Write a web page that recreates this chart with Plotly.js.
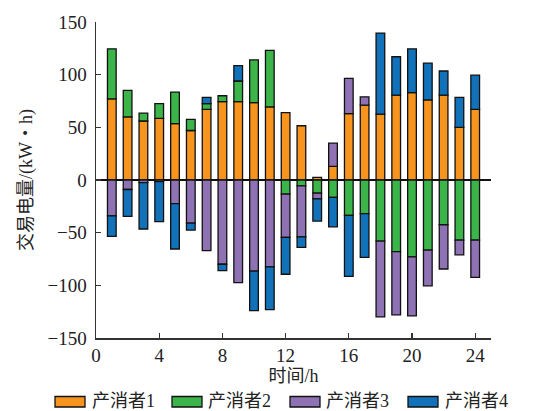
<!DOCTYPE html>
<html>
<head>
<meta charset="utf-8">
<script src="https://cdn.plot.ly/plotly-3.0.1.min.js"></script>
<style>
  html, body { margin: 0; padding: 0; background: #fff; }
  #chart { width: 534px; height: 411px; }
</style>
</head>
<body>
<div id="chart"></div>
<script>
// Hourly traded energy of four prosumers (kW·h); positive = sold, negative = bought
const hours = [1,2,3,4,5,6,7,8,9,10,11,12,13,14,15,16,17,18,19,20,21,22,23,24];
const prosumer1 = [77, 60, 56, 58.5, 53.5, 47, 67, 74.5, 74.5, 73.5, 69.5, 64, 51.5, 2.5, 13, 63, 71, 62.5, 80.5, 83, 76, 80.5, 50, 67];
const prosumer2 = [47.5, 25, 7.5, 14, 30, 10.5, 5.5, 5.5, 19.5, 40.5, 53.5, -13.5, -5.5, -12.5, -16.5, -33.5, -32, -58, -68, -73, -66.5, -42.5, -57, -57];
const prosumer3 = [-34, -9, -2.5, -1.5, -22.5, -41, -67, -80, -97.5, -86.5, -82.5, -41, -48.5, -5.5, 22, 33.5, 8, -72, -60, -56, -34, -42, -14, -35.5];
const prosumer4 = [-19.5, -25.5, -44, -38, -43, -6.5, 6, -6, 14.5, -37.5, -40.5, -35, -10, -21, -28, -58, -41.5, 77, 36.5, 41.5, 35, 23, 28.5, 32.5];

const seriesNames = ['产消者1', '产消者2', '产消者3', '产消者4'];
const seriesColors = ['#F7941D', '#3BB54A', '#8F72B4', '#1172BA'];
const seriesValues = [prosumer1, prosumer2, prosumer3, prosumer4];

const W = 534, H = 411;
const M = { l: 96, r: 43, t: 22, b: 73 };
const plotW = W - M.l - M.r, plotH = H - M.t - M.b;
const px2x = px => (px - M.l) / plotW;
const px2y = py => (H - M.b - py) / plotH;

const FONT = 'Liberation Serif, "Noto Sans CJK SC", serif';
const TXT = '#222';

const traces = seriesValues.map((vals, i) => ({
  type: 'bar',
  x: hours,
  y: vals,
  name: seriesNames[i],
  width: 0.55,
  marker: { color: seriesColors[i], line: { color: '#111', width: 1.3 } },
  showlegend: false,
  hoverinfo: 'skip'
}));

// Hand-drawn legend row below the x-axis title
const legendSwatchX = [55, 172, 290, 408];
const legendTextX = [90, 206, 324, 443];
const shapes = [];
const annotations = [];
seriesNames.forEach((name, i) => {
  shapes.push({
    type: 'rect', xref: 'paper', yref: 'paper',
    x0: px2x(legendSwatchX[i]), x1: px2x(legendSwatchX[i] + 30),
    y0: px2y(396.5), y1: px2y(407),
    fillcolor: seriesColors[i], line: { color: '#111', width: 1.3 }
  });
  annotations.push({
    xref: 'paper', yref: 'paper',
    x: px2x(legendTextX[i]), y: px2y(401),
    xanchor: 'left', yanchor: 'middle', showarrow: false,
    text: name, font: { family: FONT, size: 18, color: TXT }
  });
});

const layout = {
  width: W, height: H,
  margin: M,
  paper_bgcolor: '#fff', plot_bgcolor: '#fff',
  barmode: 'relative',
  bargap: 0,
  font: { family: FONT, size: 19, color: TXT },
  xaxis: {
    range: [0, 25],
    tickvals: [0, 4, 8, 12, 16, 20, 24],
    ticks: 'inside', ticklen: 5, tickwidth: 1.3, tickcolor: '#333',
    showline: true, linecolor: '#333', linewidth: 1.5,
    showgrid: false, zeroline: false,
    tickfont: { family: FONT, size: 19, color: TXT },
    title: { text: '时间/h', font: { family: FONT, size: 18, color: TXT }, standoff: 4 }
  },
  yaxis: {
    range: [-150, 150],
    tickvals: [-150, -100, -50, 0, 50, 100, 150],
    ticks: 'inside', ticklen: 5, tickwidth: 1.3, tickcolor: '#333',
    showline: true, linecolor: '#333', linewidth: 1.5,
    showgrid: false,
    zeroline: true, zerolinecolor: '#111', zerolinewidth: 1.3,
    ticklabelstandoff: 4,
    tickfont: { family: FONT, size: 19, color: TXT },
    title: { text: '交易电量/(kW・h)', font: { family: FONT, size: 18, color: TXT }, standoff: 10 }
  },
  shapes: shapes,
  annotations: annotations
};

Plotly.newPlot('chart', traces, layout, { staticPlot: true, displayModeBar: false });
</script>
</body>
</html>
